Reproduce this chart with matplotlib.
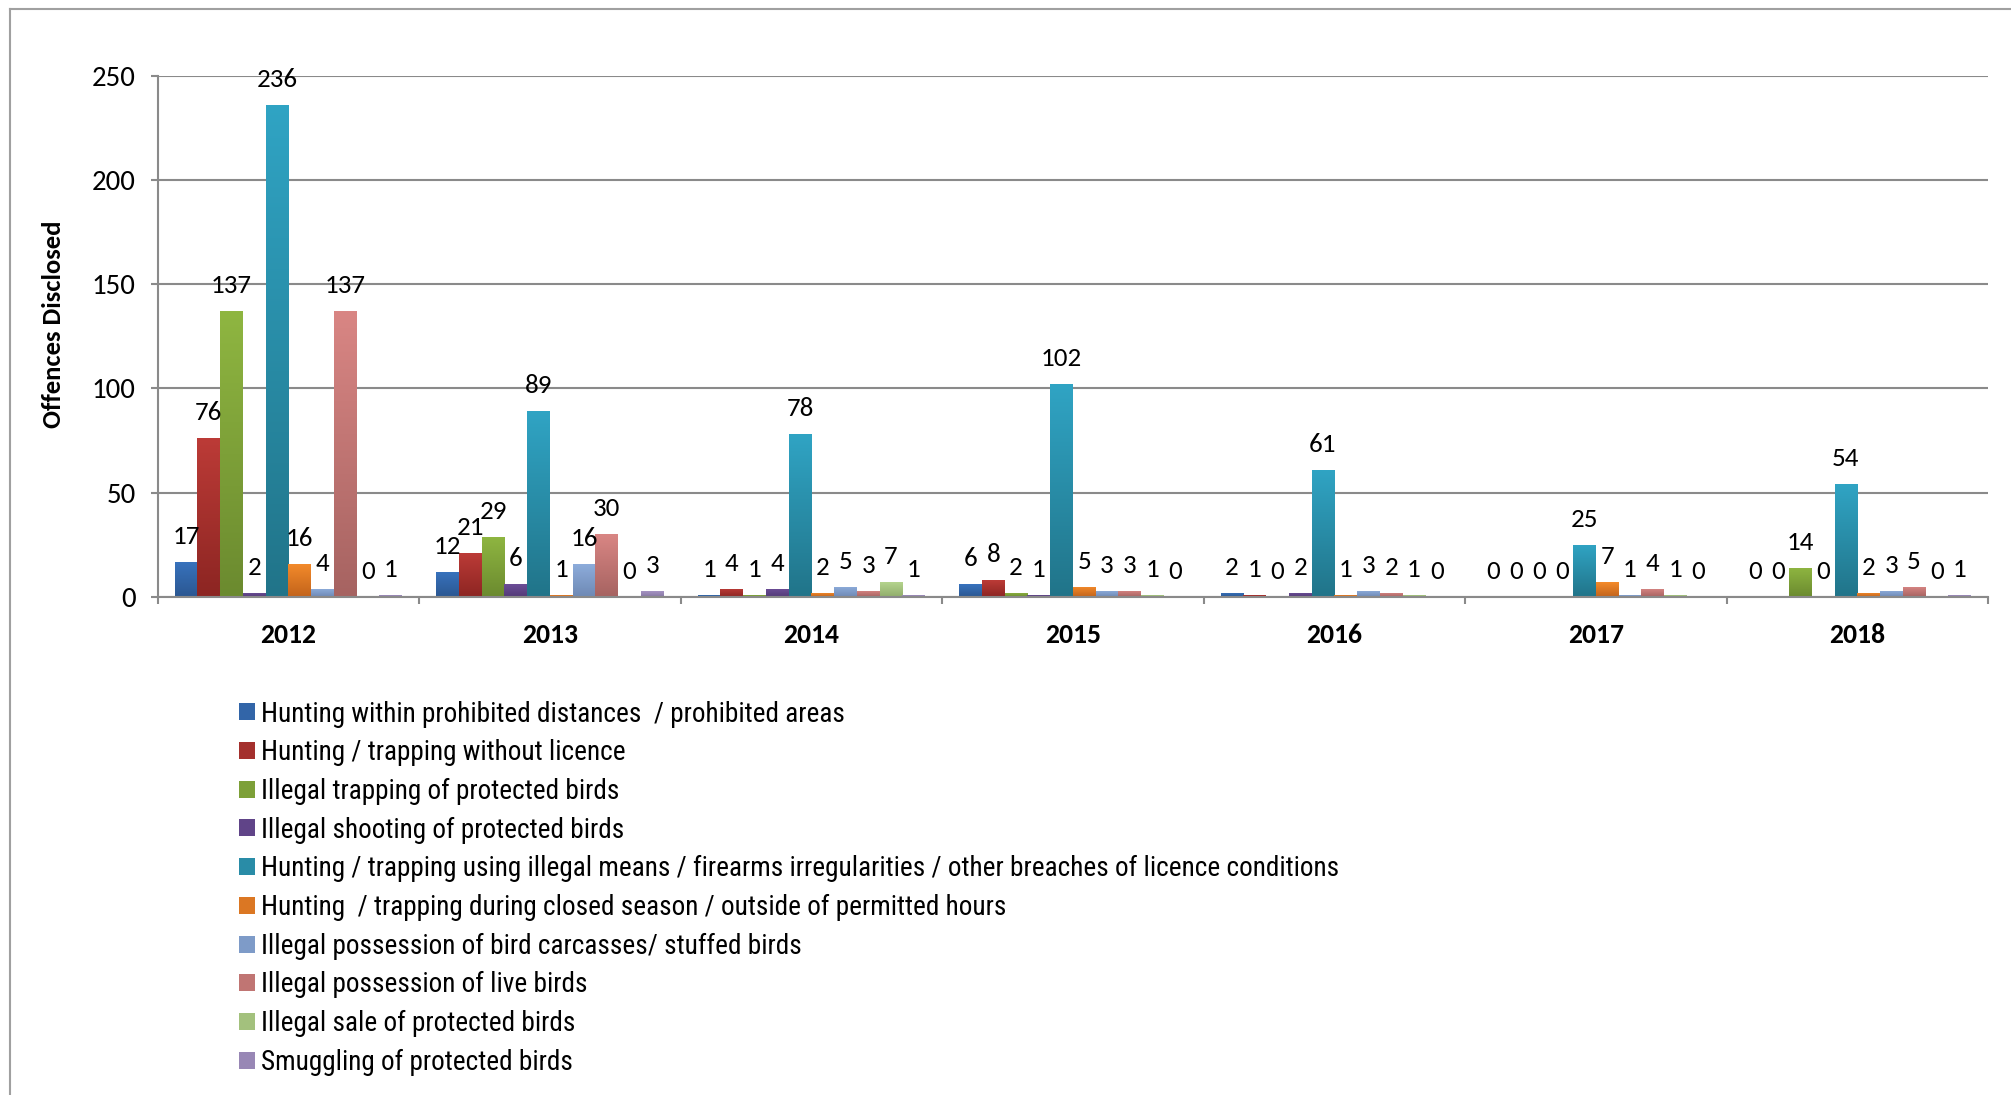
import matplotlib
matplotlib.use("Agg")
import matplotlib.pyplot as plt
import numpy as np
from matplotlib import font_manager as fm
from matplotlib.colors import LinearSegmentedColormap, to_rgb
from matplotlib.lines import Line2D

# ---------------- data ----------------
years = ["2012", "2013", "2014", "2015", "2016", "2017", "2018"]
series_names = [
    "Hunting within prohibited distances  / prohibited areas",
    "Hunting / trapping without licence",
    "Illegal trapping of protected birds",
    "Illegal shooting of protected birds",
    "Hunting / trapping using illegal means / firearms irregularities / other breaches of licence conditions",
    "Hunting  / trapping during closed season / outside of permitted hours",
    "Illegal possession of bird carcasses/ stuffed birds",
    "Illegal possession of live birds",
    "Illegal sale of protected birds",
    "Smuggling of protected birds",
]
v_prohibited_areas = [17, 12, 1, 6, 2, 0, 0]
v_no_licence = [76, 21, 4, 8, 1, 0, 0]
v_trapping_protected = [137, 29, 1, 2, 0, 0, 14]
v_shooting_protected = [2, 6, 4, 1, 2, 0, 0]
v_illegal_means = [236, 89, 78, 102, 61, 25, 54]
v_closed_season = [16, 1, 2, 5, 1, 7, 2]
v_carcasses = [4, 16, 5, 3, 3, 1, 3]
v_live_birds = [137, 30, 3, 3, 2, 4, 5]
v_sale = [0, 0, 7, 1, 1, 1, 0]
v_smuggling = [1, 3, 1, 0, 0, 0, 1]
series_values = [v_prohibited_areas, v_no_licence, v_trapping_protected,
                 v_shooting_protected, v_illegal_means, v_closed_season,
                 v_carcasses, v_live_birds, v_sale, v_smuggling]
yticks = [0, 50, 100, 150, 200, 250]

# (top colour, bottom colour) of each series' gradient
series_colors = [
    ("#3873BE", "#2B5791"),
    ("#BC3B37", "#8C2522"),
    ("#8FB641", "#6B8A2F"),
    ("#6D4E98", "#523A77"),
    ("#30A4C4", "#217489"),
    ("#F48B2B", "#C2631B"),
    ("#8EADDC", "#6E89B4"),
    ("#D98684", "#A66361"),
    ("#B5D48E", "#90AD6B"),
    ("#AA98C9", "#8676A1"),
]

# ---------------- fonts ----------------
avail = {f.name for f in fm.fontManager.ttflist}
def pick(cands):
    for c in cands:
        if c in avail:
            return c
    return "DejaVu Sans"
NUM_FONT = pick(["Carlito", "Lato", "Open Sans", "Noto Sans"])
LEG_FONT = pick(["Liberation Sans Narrow", "Roboto Condensed", "Carlito", "Lato"])
plt.rcParams["font.family"] = [NUM_FONT, "DejaVu Sans"]

# ---------------- geometry ----------------
W, H, DPI = 2011, 1095, 100
PT = 72.0 / DPI
GRID = "#8a8a8a"

fig = plt.figure(figsize=(W / DPI, H / DPI), dpi=DPI)
renderer = fig.canvas.get_renderer()

AX_L, AX_R, AX_T, AX_B = 157.7, 1988.0, 75.6, 597.0
ax = fig.add_axes([AX_L / W, 1 - AX_B / H, (AX_R - AX_L) / W, (AX_B - AX_T) / H])

def size_for(s, family, weight, target_w, base=20.0):
    t = fig.text(0, 0, s, fontsize=base, family=family, weight=weight)
    w = t.get_window_extent(renderer).width
    t.remove()
    return base * target_w / w

fs_tick = size_for("250", NUM_FONT, "normal", 44)
fs_data = size_for("236", NUM_FONT, "normal", 41)
fs_year = size_for("2012", NUM_FONT, "bold", 56)
fs_ylab = size_for("Offences Disclosed", NUM_FONT, "bold", 208)

# ---------------- bars ----------------
x = np.arange(len(years))
n = len(series_values)
bw = 1 / 11.5
grad = np.linspace(0, 1, 256).reshape(-1, 1)
containers = []
for i, (vals, name, (ct, cb)) in enumerate(zip(series_values, series_names, series_colors)):
    offs = (i - (n - 1) / 2) * bw
    mid = tuple((np.array(to_rgb(ct)) + np.array(to_rgb(cb))) / 2)
    bc = ax.bar(x + offs, vals, width=bw, color=mid, linewidth=0, zorder=2, label=name)
    containers.append(bc)
    cmap = LinearSegmentedColormap.from_list("g%d" % i, [cb, ct])
    for rect, v in zip(bc, vals):
        h = rect.get_height()
        if h > 0:
            x0 = rect.get_x()
            im = ax.imshow(grad, extent=(x0, x0 + rect.get_width(), 0, h), origin="lower",
                           cmap=cmap, aspect="auto", zorder=2.1, interpolation="bilinear")
            im.set_clip_path(rect)
        ax.annotate(str(v), xy=(rect.get_x() + rect.get_width() / 2, h),
                    xytext=(0, 25.5 * PT), textcoords="offset points",
                    ha="center", va="center", fontsize=fs_data, color="black", zorder=5)

ax.set_xlim(-0.5, len(years) - 0.5)
ax.set_ylim(0, 250)

# ---------------- axes styling ----------------
for s in ("top", "right"):
    ax.spines[s].set_visible(False)
for s in ("left", "bottom"):
    ax.spines[s].set_color(GRID)
    ax.spines[s].set_linewidth(1.5)
ax.set_axisbelow(True)
ax.yaxis.grid(True, color=GRID, linewidth=1.5)

ax.set_yticks(yticks)
ax.tick_params(axis="y", length=7 * PT, width=1.5, color=GRID, pad=15 * PT,
               labelsize=fs_tick, labelcolor="black")

ax.set_xticks(np.arange(-0.5, len(years), 1))
ax.set_xticklabels([])
ax.tick_params(axis="x", which="major", length=7 * PT, width=1.5, color=GRID)
ax.set_xticks(x, minor=True)
ax.set_xticklabels(years, minor=True, fontweight="bold", va="center", fontsize=fs_year)
ax.tick_params(axis="x", which="minor", length=0, pad=38 * PT)

ax.set_ylabel("Offences Disclosed", fontsize=fs_ylab, fontweight="bold", va="center")
ax.yaxis.set_label_coords((54 - AX_L) / (AX_R - AX_L), (AX_B - 324) / (AX_B - AX_T))

# ---------------- legend (self-calibrated to reference layout) ----------------
LEG_TEXT_X, LEG_Y0, LEG_PITCH, LEG_MAXW = 261.0, 714.0, 38.7, 1081.0
state = {"fs": 18.0, "ls": 0.4, "ax": 238.0, "ay": 695.0}
leg = [None]

def make_legend():
    if leg[0] is not None:
        leg[0].remove()
    fs_px = state["fs"] / PT
    leg[0] = fig.legend(containers, series_names, loc="upper left",
                        bbox_to_anchor=(state["ax"] / W, 1 - state["ay"] / H),
                        bbox_transform=fig.transFigure, frameon=False,
                        prop={"family": LEG_FONT, "size": state["fs"]},
                        borderpad=0, borderaxespad=0,
                        handlelength=16 / fs_px, handleheight=16 / fs_px,
                        handletextpad=6 / fs_px, labelspacing=state["ls"])

make_legend(); fig.canvas.draw()
wmax = max(t.get_window_extent(renderer).width for t in leg[0].get_texts())
state["fs"] *= LEG_MAXW / wmax
make_legend(); fig.canvas.draw()
ex = [t.get_window_extent(renderer) for t in leg[0].get_texts()]
pitch = ((ex[0].y0 + ex[0].y1) / 2 - (ex[-1].y0 + ex[-1].y1) / 2) / (len(ex) - 1)
state["ls"] += (LEG_PITCH - pitch) * PT / state["fs"]
make_legend(); fig.canvas.draw()
e0 = leg[0].get_texts()[0].get_window_extent(renderer)
state["ax"] += LEG_TEXT_X - e0.x0
state["ay"] += LEG_Y0 - (H - (e0.y0 + e0.y1) / 2)
make_legend()

# ---------------- outer frame of the source figure ----------------
fig.add_artist(Line2D([10 / W, 10 / W], [0, 1 - 9 / H], transform=fig.transFigure,
                      color="#a0a0a0", linewidth=1.5))
fig.add_artist(Line2D([10 / W, 1], [1 - 9 / H, 1 - 9 / H], transform=fig.transFigure,
                      color="#a0a0a0", linewidth=1.5))

fig.savefig("out.png", dpi=DPI)
